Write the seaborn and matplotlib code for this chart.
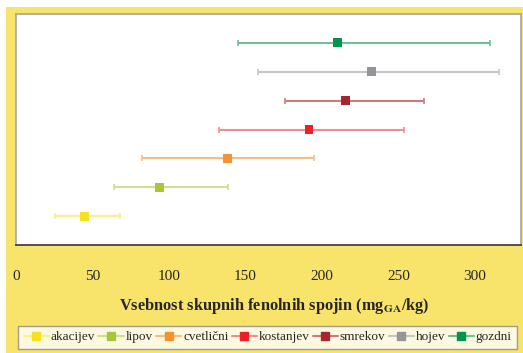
import numpy as np
import pandas as pd
import matplotlib
matplotlib.use("Agg")
import matplotlib.pyplot as plt
from matplotlib.lines import Line2D
from matplotlib.patches import Rectangle
import seaborn as sns

# honey types, bottom to top
honey = ['akacijev', 'lipov', 'cvetlični', 'kostanjev', 'smrekov', 'hojev', 'gozdni']
mean_val = [44.8, 93.8, 138.0, 191.4, 215.1, 232.1, 210.3]
low_val = [25.8, 63.9, 82.5, 132.6, 176.0, 158.0, 144.8]
high_val = [68.0, 138.4, 194.9, 253.5, 266.8, 315.8, 309.7]
colors = ['#F7E11E', '#A9C63A', '#F39330', '#EE2027', '#A6262D', '#939598', '#00954A']
light = ['#FBEF8A', '#CFDF8E', '#F7BE82', '#F28C8F', '#CC7B80', '#C4C5C7', '#6CC296']

df = pd.DataFrame({'honey': honey, 'mean': mean_val, 'low': low_val,
                   'high': high_val, 'pos': np.arange(1, len(honey) + 1)})

sns.set_style("white")
plt.rcParams['font.family'] = ['Liberation Serif', 'DejaVu Serif']
plt.rcParams['mathtext.fontset'] = 'stix'

fig = plt.figure(figsize=(5.23, 3.53), dpi=100, facecolor='white')
fig.patches.append(Rectangle((6 / 523, 0), 1, 1 - 7 / 353, transform=fig.transFigure,
                             facecolor='#F8E46A', edgecolor='none', zorder=-10))
ax = fig.add_axes([16 / 523, 1 - 245 / 353, 505 / 523, 231 / 353])
ax.set_facecolor('white')

for i, r in df.iterrows():
    ax.errorbar(r['mean'], r['pos'],
                xerr=[[r['mean'] - r['low']], [r['high'] - r['mean']]],
                fmt='none', ecolor=light[i], elinewidth=1.5, capsize=2.3, capthick=1.2, zorder=2)

sns.scatterplot(data=df, x='mean', y='pos', hue='honey', palette=colors, marker='s',
                s=40, edgecolor='none', legend=False, ax=ax, zorder=3)

ax.set_xlim(0, 330)
ax.set_ylim(0, 8)
ax.set_yticks([])
ax.set_ylabel('')
ax.set_xticks([0, 50, 100, 150, 200, 250, 300])
ax.tick_params(axis='x', direction='out', length=5, width=1, color='#333333',
               labelsize=11, pad=13)
for s in ['top', 'right', 'left']:
    ax.spines[s].set_color('#AAAAAA')
    ax.spines[s].set_linewidth(1.3)
ax.spines['bottom'].set_color('#444444')
ax.spines['bottom'].set_linewidth(1.3)
ax.set_xlabel(r'Vsebnost skupnih fenolnih spojin (mg$_{\mathbf{GA}}$/kg)',
              fontsize=11.8, fontweight='bold', labelpad=9)
ax.xaxis.label.set_x(0.512)

handles = [Line2D([0], [0], color=light[i], lw=1.5, marker='s', markersize=6,
                  markerfacecolor=colors[i], markeredgecolor=colors[i])
           for i in range(len(honey))]
leg = fig.legend(handles, honey, loc='lower center', bbox_to_anchor=(0.512, 0.012),
                 ncol=7, fontsize=9.5, frameon=True, fancybox=False, handlelength=1.9,
                 handletextpad=0.15, columnspacing=0.25, borderpad=0.4, borderaxespad=0)
leg.get_frame().set_edgecolor('#888888')
leg.get_frame().set_linewidth(1.0)

fig.savefig('out.png', dpi=100, facecolor=fig.get_facecolor())
